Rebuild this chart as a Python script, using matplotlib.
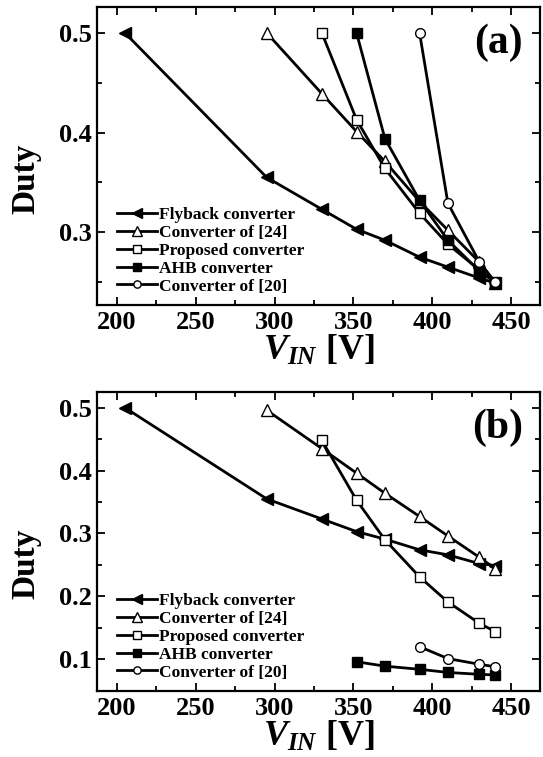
import matplotlib
matplotlib.use("Agg")
import matplotlib.pyplot as plt
from matplotlib.ticker import MultipleLocator

plt.rcParams['font.family'] = ['Liberation Serif', 'DejaVu Serif']
plt.rcParams['font.weight'] = 'bold'
plt.rcParams['mathtext.fontset'] = 'custom'
plt.rcParams['mathtext.it'] = 'Liberation Serif:italic:bold'
plt.rcParams['mathtext.rm'] = 'Liberation Serif:bold'

# input voltages
v_fly = [205, 295, 330, 352, 370, 392, 410, 430, 440]
v_24 = [295, 330, 352, 370, 392, 410, 430, 440]
v_prop = [330, 352, 370, 392, 410, 430, 440]
v_ahb = [352, 370, 392, 410, 430, 440]
v_20 = [392, 410, 430, 440]

# panel (a)
a_fly = [0.500, 0.355, 0.323, 0.303, 0.292, 0.275, 0.265, 0.254, 0.249]
a_24 = [0.500, 0.439, 0.401, 0.371, 0.331, 0.302, 0.270, 0.249]
a_prop = [0.500, 0.413, 0.364, 0.319, 0.288, 0.262, 0.249]
a_ahb = [0.500, 0.394, 0.332, 0.292, 0.261, 0.250]
a_20 = [0.500, 0.329, 0.270, 0.250]

# panel (b)
b_fly = [0.500, 0.355, 0.323, 0.303, 0.291, 0.274, 0.266, 0.252, 0.249]
b_24 = [0.496, 0.435, 0.396, 0.364, 0.327, 0.296, 0.262, 0.244]
b_prop = [0.448, 0.353, 0.290, 0.231, 0.191, 0.157, 0.144]
b_ahb = [0.096, 0.089, 0.084, 0.079, 0.076, 0.075]
b_20 = [0.120, 0.101, 0.092, 0.088]

names = ["Flyback converter", "Converter of [24]", "Proposed converter",
         "AHB converter", "Converter of [20]"]

fig = plt.figure(figsize=(5.43, 7.57), dpi=100)
ax1 = fig.add_axes([0.1786, 0.5971, 0.8158, 0.3937])
ax2 = fig.add_axes([0.1786, 0.0872, 0.8158, 0.3950])


def draw(ax, ys, ylim, yticks, tag):
    lw = 2.0
    ax.plot(v_fly, ys[0], color='k', lw=lw, marker='<', ms=9, mfc='k', mec='k', label=names[0])
    ax.plot(v_24, ys[1], color='k', lw=lw, marker='^', ms=9, mfc='white', mec='k', mew=1, label=names[1])
    ax.plot(v_prop, ys[2], color='k', lw=lw, marker='s', ms=7, mfc='white', mec='k', mew=1, label=names[2])
    ax.plot(v_ahb, ys[3], color='k', lw=lw, marker='s', ms=7, mfc='k', mec='k', label=names[3])
    ax.plot(v_20, ys[4], color='k', lw=lw, marker='o', ms=7, mfc='white', mec='k', mew=1, label=names[4])
    ax.set_xlim(187.3, 468.4)
    ax.set_ylim(*ylim)
    ax.set_xticks([200, 250, 300, 350, 400, 450])
    ax.set_yticks(yticks)
    ax.xaxis.set_minor_locator(MultipleLocator(25))
    ax.yaxis.set_minor_locator(MultipleLocator(0.05))
    ax.tick_params(which='both', direction='in', top=True, right=True, width=1.3)
    ax.tick_params(which='major', length=6, labelsize=19)
    ax.tick_params(which='minor', length=3.5)
    ax.tick_params(axis='x', which='major', pad=4)
    ax.tick_params(axis='y', which='major', pad=4)
    for s in ax.spines.values():
        s.set_linewidth(1.6)
    ax.set_ylabel("Duty", fontsize=24, fontweight='bold')
    ax.yaxis.set_label_coords(-0.125, 0.425)
    ax.set_xlabel(r"$V_{IN}$ [V]", fontsize=26, fontweight='bold', labelpad=0)
    ax.text(0.962, 0.945, tag, transform=ax.transAxes, ha='right', va='top',
            fontsize=30, fontweight='bold')
    ax.legend(loc='lower left', bbox_to_anchor=(0.045, 0.035), frameon=False,
              fontsize=12.5, handlelength=2.3, handletextpad=0.1,
              labelspacing=0.1, borderaxespad=0, borderpad=0, markerscale=0.75)


draw(ax1, [a_fly, a_24, a_prop, a_ahb, a_20], (0.227, 0.526), [0.3, 0.4, 0.5], "(a)")
draw(ax2, [b_fly, b_24, b_prop, b_ahb, b_20], (0.0495, 0.525), [0.1, 0.2, 0.3, 0.4, 0.5], "(b)")

fig.savefig("out.png", dpi=100)
